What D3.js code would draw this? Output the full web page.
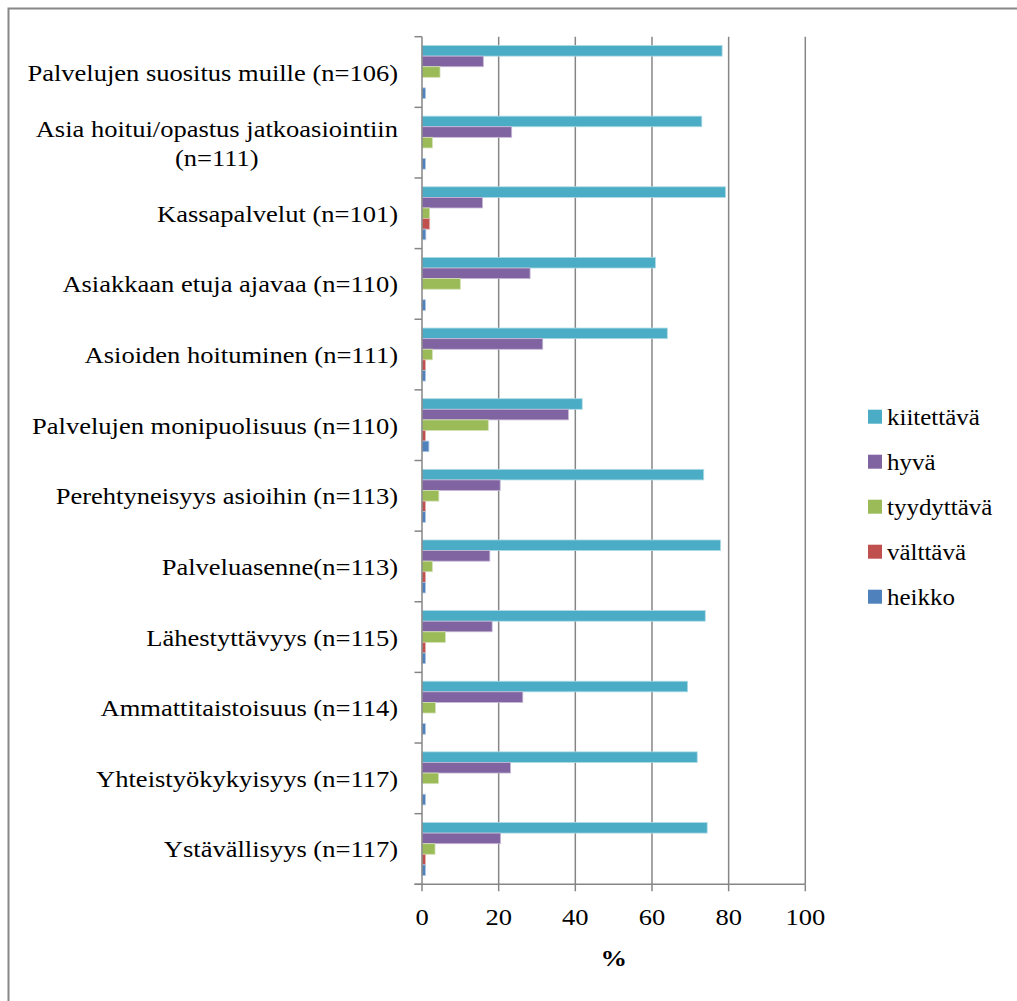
<!DOCTYPE html>
<html>
<head>
<meta charset="utf-8">
<script src="https://cdn.jsdelivr.net/npm/d3@7"></script>
<style>
  html, body { margin: 0; padding: 0; background: #fff; }
  svg { display: block; }
  text { font-family: "Liberation Serif", "Times New Roman", serif; fill: #000; }
</style>
</head>
<body>
<svg id="chart" width="1017" height="1001"></svg>
<script>
// Rating categories, listed top to bottom
const categories = [
  ["Palvelujen suositus muille (n=106)"],
  ["Asia hoitui/opastus jatkoasiointiin", "(n=111)"],
  ["Kassapalvelut (n=101)"],
  ["Asiakkaan etuja ajavaa (n=110)"],
  ["Asioiden hoituminen (n=111)"],
  ["Palvelujen monipuolisuus (n=110)"],
  ["Perehtyneisyys asioihin (n=113)"],
  ["Palveluasenne(n=113)"],
  ["Lähestyttävyys (n=115)"],
  ["Ammattitaistoisuus (n=114)"],
  ["Yhteistyökykyisyys (n=117)"],
  ["Ystävällisyys (n=117)"]
];

// Series names (in bar order within each group)
const seriesNames = ["kiitettävä", "hyvä", "tyydyttävä", "välttävä", "heikko"];
const seriesColors = ["#4BACC6", "#8064A2", "#9BBB59", "#C0504D", "#4F81BD"];

// Percent values per series, same order as categories
const kiitettava = [78.3, 73.0, 79.2, 60.9, 64.0, 41.8, 73.5, 77.9, 73.9, 69.3, 71.8, 74.4];
const hyva       = [16.0, 23.4, 15.8, 28.2, 31.5, 38.2, 20.4, 17.7, 18.3, 26.3, 23.1, 20.5];
const tyydyttava = [4.7, 2.7, 2.0, 10.0, 2.7, 17.3, 4.4, 2.7, 6.1, 3.5, 4.3, 3.4];
const valttava   = [0.0, 0.0, 2.0, 0.0, 0.9, 0.9, 0.9, 0.9, 0.9, 0.0, 0.0, 0.9];
const heikko     = [0.9, 0.9, 1.0, 0.9, 0.9, 1.8, 0.9, 0.9, 0.9, 0.9, 0.9, 0.9];

const xTicks = [0, 20, 40, 60, 80, 100];
const xTitle = "%";

const seriesValues = [kiitettava, hyva, tyydyttava, valttava, heikko];

const svg = d3.select("#chart");
const fontSize = 24;
const legendFontSize = 22.6;
const stretchX = 1.105;   // text is drawn slightly wide

// Places a horizontally stretched text at (x, y)
function stretchedText(parent, x, y, size, anchor) {
  const g = parent.append("g")
    .attr("transform", `translate(${x},${y}) scale(${stretchX},1)`);
  return g.append("text")
    .attr("x", 0).attr("y", 0)
    .attr("font-size", size)
    .attr("text-anchor", anchor || "start");
}

// Outer frame
svg.append("rect")
  .attr("x", 8.5).attr("y", 8.5)
  .attr("width", 1030).attr("height", 1030)
  .attr("fill", "none").attr("stroke", "#888").attr("stroke-width", 2);

const plot = { left: 422, right: 805.3, top: 36.7, bottom: 884.3 };

const x = d3.scaleLinear().domain([0, 100]).range([plot.left, plot.right]);
const y = d3.scaleBand()
  .domain(d3.range(categories.length))
  .range([plot.top, plot.bottom])
  .paddingInner(0.25)
  .paddingOuter(0.125);
const ySub = d3.scaleBand()
  .domain(d3.range(seriesNames.length))
  .range([0, y.bandwidth()]);

const gridColor = "#868686";

// Vertical gridlines
svg.append("g")
  .selectAll("line")
  .data(xTicks.filter(t => t > 0))
  .join("line")
  .attr("x1", d => x(d)).attr("x2", d => x(d))
  .attr("y1", plot.top).attr("y2", plot.bottom)
  .attr("stroke", gridColor).attr("stroke-width", 1.5);

// Bars
const groups = svg.append("g")
  .selectAll("g")
  .data(categories.map((c, i) => i))
  .join("g")
  .attr("transform", i => `translate(0,${y(i)})`);

groups.selectAll("rect")
  .data(i => seriesValues.map((vals, s) => ({ s, v: vals[i] })).filter(d => d.v > 0))
  .join("rect")
  .attr("x", x(0))
  .attr("y", d => ySub(d.s))
  .attr("width", d => x(d.v) - x(0))
  .attr("height", ySub.bandwidth())
  .attr("fill", d => seriesColors[d.s])
  .attr("stroke", d => d3.interpolateRgb(seriesColors[d.s], "#fff")(0.55))
  .attr("stroke-width", 0.8);

// Category axis: line plus ticks at group boundaries
const step = y.step();
const boundaries = d3.range(categories.length + 1).map(i => plot.top + i * step);
svg.append("line")
  .attr("x1", plot.left).attr("x2", plot.left)
  .attr("y1", plot.top).attr("y2", plot.bottom)
  .attr("stroke", gridColor).attr("stroke-width", 1.5);
svg.append("g")
  .selectAll("line")
  .data(boundaries)
  .join("line")
  .attr("x1", plot.left - 7.5).attr("x2", plot.left)
  .attr("y1", d => d).attr("y2", d => d)
  .attr("stroke", gridColor).attr("stroke-width", 1.5);

// Value axis along the bottom
svg.append("line")
  .attr("x1", plot.left - 7.5).attr("x2", plot.right)
  .attr("y1", plot.bottom).attr("y2", plot.bottom)
  .attr("stroke", gridColor).attr("stroke-width", 1.5);
svg.append("g")
  .selectAll("line")
  .data(xTicks)
  .join("line")
  .attr("x1", d => x(d)).attr("x2", d => x(d))
  .attr("y1", plot.bottom).attr("y2", plot.bottom + 7)
  .attr("stroke", gridColor).attr("stroke-width", 1.5);
const tickLayer = svg.append("g");
xTicks.forEach(t => {
  stretchedText(tickLayer, x(t), 925, fontSize, "middle").text(t);
});

stretchedText(svg, (plot.left + plot.right) / 2, 966, fontSize, "middle")
  .attr("font-weight", "bold")
  .text(xTitle);

// Category labels (multi-line labels are centred on each other, block right-aligned)
const lineH = 29;
const labelRight = 398;
categories.forEach((lines, i) => {
  const cy = y(i) + y.bandwidth() / 2;
  const n = lines.length;
  const g = svg.append("g");
  const texts = lines.map((ln, k) =>
    stretchedText(g, 0, cy + (k - (n - 1) / 2) * lineH + 8.5, fontSize, "middle").text(ln));
  const widths = texts.map(t => t.node().getComputedTextLength() * stretchX);
  const centerX = labelRight - d3.max(widths) / 2;
  texts.forEach((t, k) => {
    d3.select(t.node().parentNode)
      .attr("transform", `translate(${centerX},${cy + (k - (n - 1) / 2) * lineH + 8.5}) scale(${stretchX},1)`);
  });
});

// Legend
const legend = svg.append("g");
seriesNames.forEach((name, s) => {
  const cy = 416.7 + s * 45;
  legend.append("rect")
    .attr("x", 868).attr("y", cy - 7)
    .attr("width", 14).attr("height", 14)
    .attr("fill", seriesColors[s]);
  stretchedText(legend, 887, cy + 8, legendFontSize, "start").text(name);
});
</script>
</body>
</html>
